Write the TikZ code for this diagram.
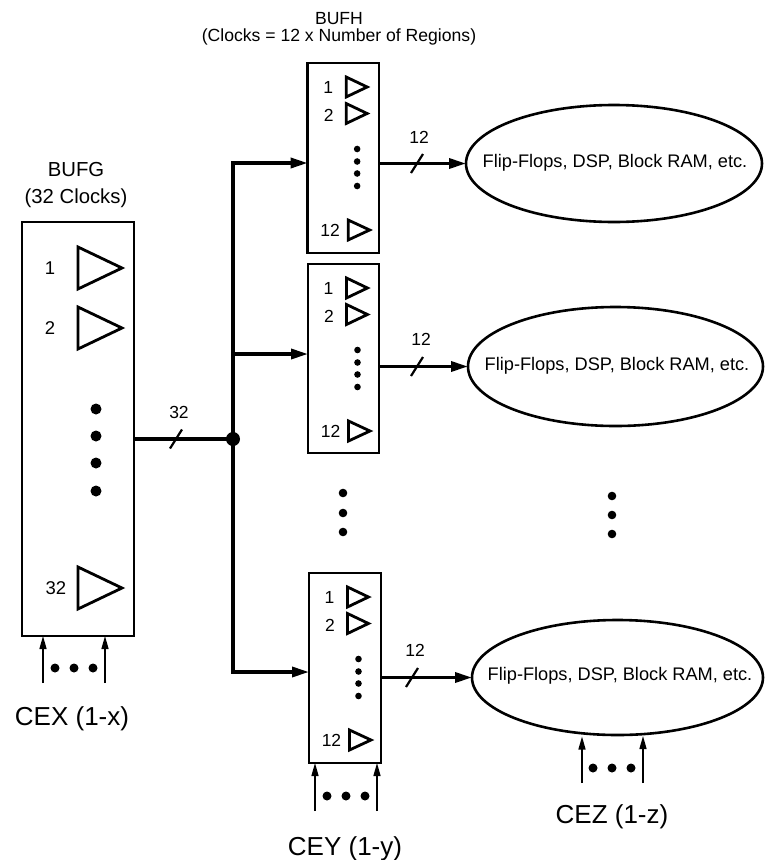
\documentclass[tikz,border=0pt]{standalone}
\usepackage{fontspec}
\setmainfont{Liberation Sans}
\usetikzlibrary{arrows.meta,shapes.geometric,calc}
\tikzset{
  box/.style={draw,line width=2.8pt,inner sep=0pt,outer sep=0pt},
  ell/.style={draw,ellipse,line width=2.6pt,inner sep=0pt,outer sep=0pt},
  elltext/.style={font=\fontsize{18.2}{20}\selectfont,inner sep=0pt,anchor=base},
  bus/.style={line width=3.4pt,line join=miter},
  busarrow/.style={bus,-{Triangle[length=17pt,width=10pt]}},
  thinarrow/.style={line width=1.4pt,-{Triangle[length=13pt,width=7pt]}},
  tri/.style={line width=2.8pt,line join=miter},
  slash/.style={line width=2.2pt},
  num/.style={font=\fontsize{17.5}{20}\selectfont,inner sep=0pt},
  bignum/.style={font=\fontsize{18.5}{20}\selectfont,inner sep=0pt},
  ttlh/.style={font=\fontsize{17.6}{20}\selectfont,inner sep=0pt,anchor=base},
  ttlg/.style={font=\fontsize{20.3}{22}\selectfont,inner sep=0pt,anchor=base},
  celabel/.style={font=\fontsize{26}{28}\selectfont,inner sep=0pt,anchor=base},
  bufhin/.pic={
    \draw[tri] (38.5,14) -- (59.5,24) -- (38.5,34) -- cycle;
    \draw[tri] (38.5,40.5) -- (59.5,50.5) -- (38.5,60.5) -- cycle;
    \draw[tri] (40.5,157) -- (62,167) -- (40.5,177) -- cycle;
    \node[num] (n1) at (20.5,24.5) {1};
    \node[num] (n2) at (21,52) {2};
    \node[num] (n12) at (22.5,167) {12};
    \foreach \yy in {86,98.5,110.5,123} \fill (49.5,\yy) circle (3.3pt);
  }
}
\begin{document}
\begin{tikzpicture}[x=1pt,y=-1pt]
\useasboundingbox (0,0) rectangle (764,860);

% titles
\node[ttlh] (bufht1) at (339,24) {BUFH};
\node[ttlh] (bufht2) at (339,41) {(Clocks = 12 x Number of Regions)};
\node[ttlg] (bufgt1) at (76,176.7) {BUFG};
\node[ttlg] (bufgt2) at (76,203.3) {(32 Clocks)};

% BUFG box
\node[box,minimum width=112pt,minimum height=414pt] (bufg) at (78,429) {};
\draw[tri] (78,247) -- (122,268) -- (78,289) -- cycle;
\draw[tri] (78,307) -- (122,328) -- (78,349) -- cycle;
\draw[tri] (78,567) -- (122,588) -- (78,609) -- cycle;
\node[bignum] (g1) at (50,268) {1};
\node[bignum] (g2) at (50,328) {2};
\node[bignum] (g32) at (56,588) {32};
\foreach \yy in {409,436,463,491} \fill (96,\yy) circle (5.5pt);

% BUFH boxes
\node[box,minimum width=71.3pt,minimum height=190pt] (bufh1) at (343.3,158) {};
\node[box,minimum width=71pt,minimum height=189pt] (bufh2) at (343.5,358.5) {};
\node[box,minimum width=72pt,minimum height=190pt] (bufh3) at (345,668) {};
\pic (p1) at (bufh1.north west) {bufhin};
\pic (p2) at (bufh2.north west) {bufhin};
\pic (p3) at (bufh3.north west) {bufhin};

% ellipses
\node[ell,minimum width=296pt,minimum height=117pt] (ell1) at (614,163.5) {};
\node[ell,minimum width=295pt,minimum height=119pt] (ell2) at (615.5,366.5) {};
\node[ell,minimum width=291pt,minimum height=115pt] (ell3) at (617.5,677.5) {};
\node[elltext] (e1t) at (615,167.3) {Flip-Flops, DSP, Block RAM, etc.};
\node[elltext] (e2t) at (617,370) {Flip-Flops, DSP, Block RAM, etc.};
\node[elltext] (e3t) at (620,680.5) {Flip-Flops, DSP, Block RAM, etc.};

% bus
\coordinate (j) at (233,439);
\coordinate (t1) at (233,163);
\coordinate (t2) at (233,354);
\coordinate (t3) at (233,672);
\draw[bus] (bufg.east |- j) -- (j);
\draw[busarrow] (j) -- (t1) -- (t1 -| bufh1.west);
\draw[busarrow] (t2) -- (t2 -| bufh2.west);
\draw[busarrow] (j) -- (t3) -- (t3 -| bufh3.west);
\node[circle,fill,inner sep=0pt,minimum size=14pt] (jdot) at (j) {};
\draw[slash] (170,448.5) -- (182,429.5);
\node[num] (l32) at (179,412) {32};

% outputs
\draw[busarrow] (bufh1.east |- ell1.west) -- (ell1.west);
\draw[busarrow] (bufh2.east |- ell2.west) -- (ell2.west);
\draw[busarrow] (bufh3.east |- ell3.west) -- (ell3.west);
\draw[slash] (411,173) -- (423,154);
\draw[slash] (411,376) -- (423,357);
\draw[slash] (406,687) -- (418,668);
\node[num] (l12a) at (419,137) {12};
\node[num] (l12b) at (421,339.5) {12};
\node[num] (l12c) at (415,650) {12};

% vertical ellipsis dots
\foreach \yy in {493,513,532} \fill (343,\yy) circle (4.3pt);
\foreach \yy in {496,515,534} \fill (612,\yy) circle (4.3pt);

% control inputs
\coordinate (cx1) at (43,683);
\coordinate (cx2) at (105,683);
\draw[thinarrow] (cx1) -- (cx1 |- bufg.south);
\draw[thinarrow] (cx2) -- (cx2 |- bufg.south);
\foreach \xx in {55,74,93} \fill (\xx,668) circle (4.5pt);
\node[celabel] (cex) at (72,725) {CEX (1-x)};

\coordinate (cy1) at (315,811);
\coordinate (cy2) at (377,811);
\draw[thinarrow] (cy1) -- (cy1 |- bufh3.south);
\draw[thinarrow] (cy2) -- (cy2 |- bufh3.south);
\foreach \xx in {327,346,365} \fill (\xx,796) circle (4.5pt);
\node[celabel] (cey) at (345,855) {CEY (1-y)};

\coordinate (cz1) at (582,783);
\coordinate (cz2) at (643,783);
\draw[thinarrow,shorten >=1.5pt] (cz1) -- (cz1 |- ell3.south);
\draw[thinarrow,shorten >=1pt] (cz2) -- (cz2 |- ell3.south);
\foreach \xx in {593,612,631} \fill (\xx,768) circle (4.5pt);
\node[celabel] (cez) at (612,823) {CEZ (1-z)};
\end{tikzpicture}
\end{document}
